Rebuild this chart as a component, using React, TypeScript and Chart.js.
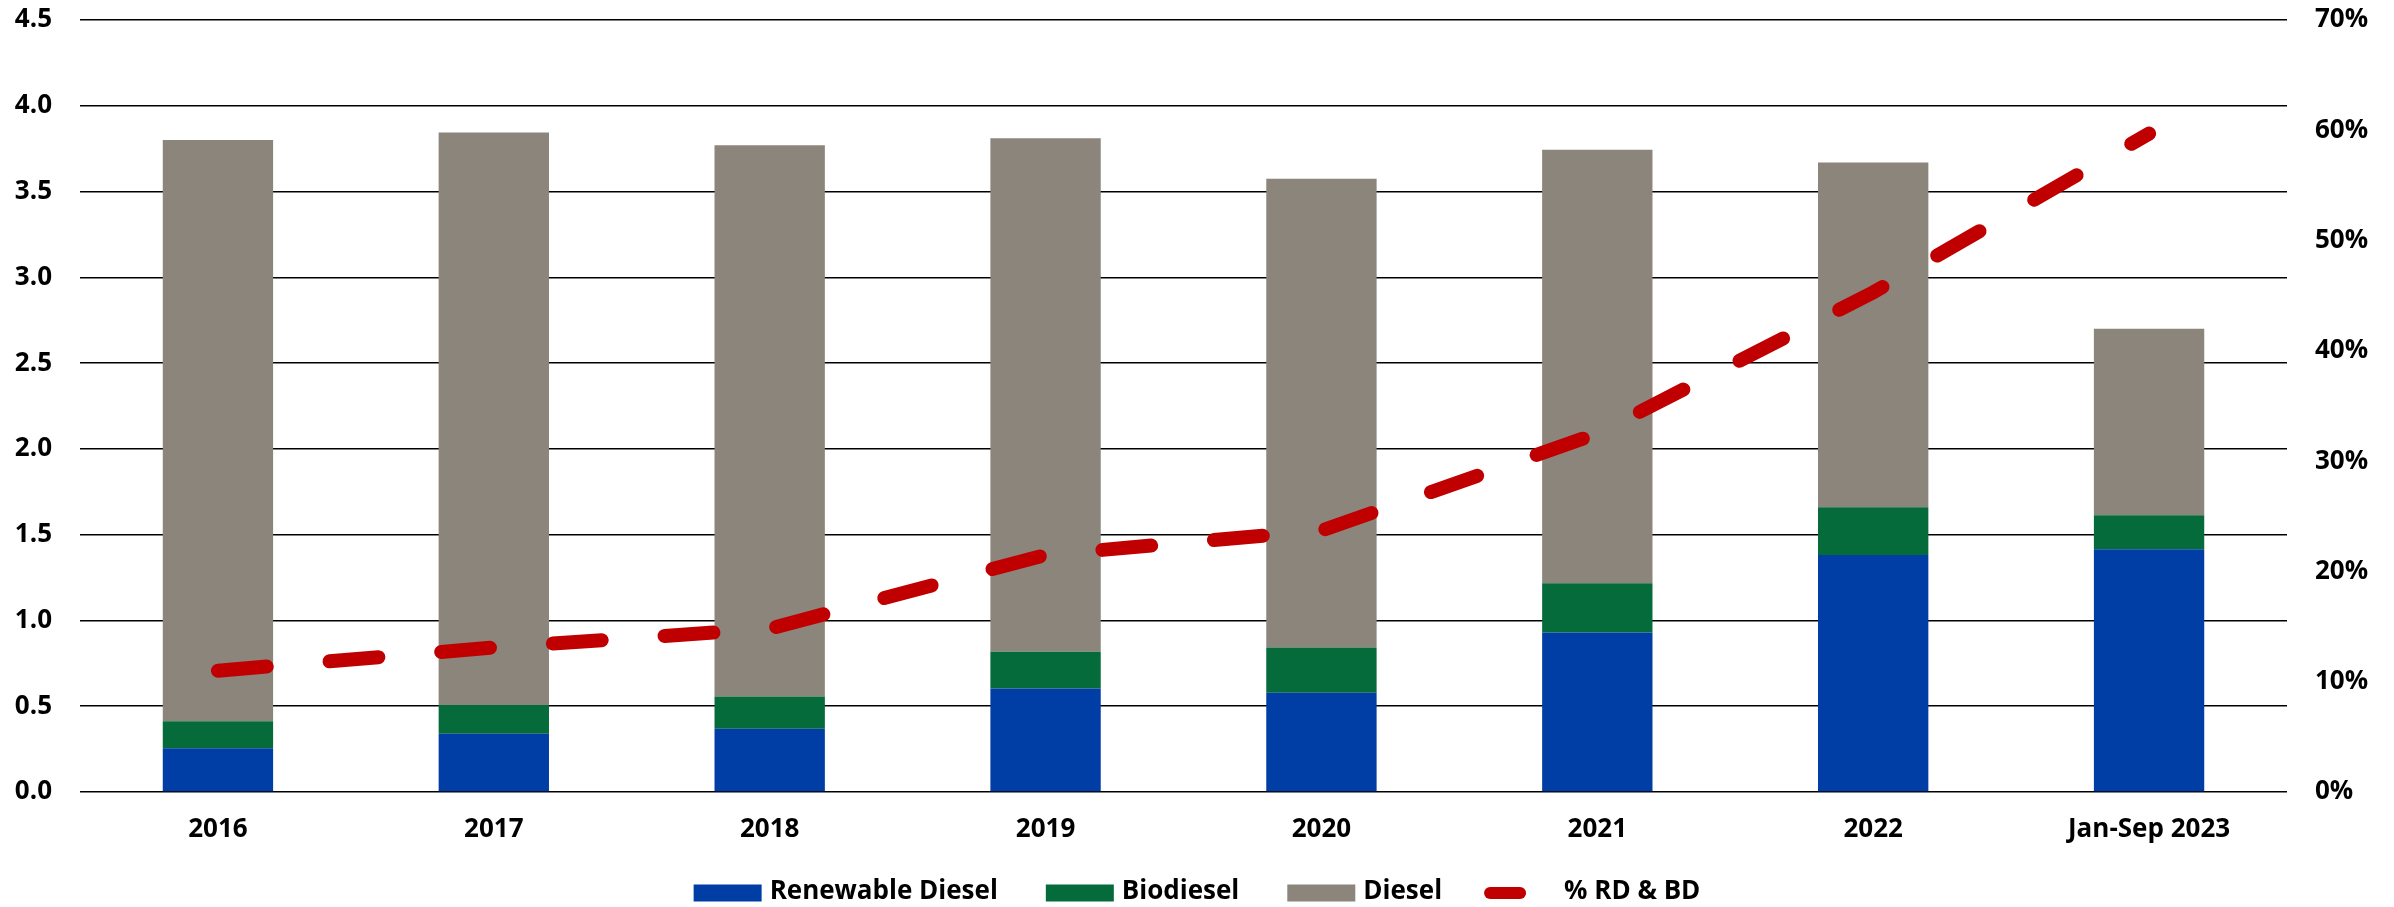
import React, { useEffect, useRef } from "react";
import { Chart, registerables } from "chart.js";

Chart.register(...registerables);

const categories = ["2016", "2017", "2018", "2019", "2020", "2021", "2022", "Jan-Sep 2023"];
const renewableDiesel = [0.255, 0.339, 0.369, 0.604, 0.578, 0.929, 1.381, 1.415];
const biodiesel = [0.158, 0.168, 0.188, 0.213, 0.265, 0.288, 0.279, 0.198];
const diesel = [3.387, 3.337, 3.213, 2.993, 2.731, 2.526, 2.01, 1.087];
const pctRdBd = [11.0, 13.1, 14.8, 21.5, 23.7, 32.5, 45.3, 59.7];
const seriesNames = ["Renewable Diesel", "Biodiesel", "Diesel", "% RD & BD"];

const COLORS = ["#003DA5", "#056B3A", "#8C857B", "#C00000"];
const FONT_FAMILY = "'Open Sans', 'Noto Sans', sans-serif";
const FONT_SIZE = 26;

const legendPlugin = {
  id: "customLegend",
  afterDraw(chart: any) {
    const ctx = chart.ctx as CanvasRenderingContext2D;
    ctx.save();
    ctx.font = `bold ${FONT_SIZE}px ${FONT_FAMILY}`;
    ctx.fillStyle = "#000";
    ctx.textBaseline = "middle";
    ctx.textAlign = "left";
    const boxW = 68, boxH = 17, boxGap = 8, itemGap = 48;
    const lineLen = 42, lineGapBefore = 42, lineGapAfter = 38;
    const items = chart.data.datasets.map((d: any) => ({
      label: d.label,
      color: d.type === "line" ? d.borderColor : d.backgroundColor,
      isLine: d.type === "line",
    }));
    let total = 0;
    items.forEach((it: any, i: number) => {
      const tw = ctx.measureText(it.label).width;
      if (it.isLine) {
        total += lineGapBefore + lineLen + lineGapAfter + tw;
      } else {
        total += (i > 0 ? itemGap : 0) + boxW + boxGap + tw;
      }
    });
    let x = chart.width / 2 - total / 2;
    const cy = 893;
    items.forEach((it: any, i: number) => {
      const tw = ctx.measureText(it.label).width;
      if (it.isLine) {
        x += lineGapBefore;
        ctx.beginPath();
        ctx.strokeStyle = it.color;
        ctx.lineWidth = 12;
        ctx.lineCap = "round";
        ctx.moveTo(x + 6, cy);
        ctx.lineTo(x + lineLen - 6, cy);
        ctx.stroke();
        x += lineLen + lineGapAfter;
        ctx.fillStyle = "#000";
        ctx.fillText(it.label, x, cy - 1);
        x += tw;
      } else {
        if (i > 0) x += itemGap;
        ctx.fillStyle = it.color;
        ctx.fillRect(x, cy - boxH / 2, boxW, boxH);
        x += boxW + boxGap;
        ctx.fillStyle = "#000";
        ctx.fillText(it.label, x, cy - 1);
        x += tw;
      }
    });
    ctx.restore();
  },
};

export default function App() {
  const canvasRef = useRef<HTMLCanvasElement | null>(null);

  useEffect(() => {
    document.body.style.margin = "0";
    const canvas = canvasRef.current;
    if (!canvas) return;
    const tickFont = { family: FONT_FAMILY, size: FONT_SIZE, weight: "bold" as const };
    const chart = new Chart(canvas, {
      type: "bar",
      data: {
        labels: categories,
        datasets: [
          {
            label: seriesNames[0],
            data: renewableDiesel,
            backgroundColor: COLORS[0],
            yAxisID: "y",
            order: 1,
            barPercentage: 0.4,
            categoryPercentage: 1,
          },
          {
            label: seriesNames[1],
            data: biodiesel,
            backgroundColor: COLORS[1],
            yAxisID: "y",
            order: 1,
            barPercentage: 0.4,
            categoryPercentage: 1,
          },
          {
            label: seriesNames[2],
            data: diesel,
            backgroundColor: COLORS[2],
            yAxisID: "y",
            order: 1,
            barPercentage: 0.4,
            categoryPercentage: 1,
          },
          {
            type: "line" as const,
            label: seriesNames[3],
            data: pctRdBd,
            yAxisID: "y1",
            borderColor: COLORS[3],
            backgroundColor: COLORS[3],
            borderWidth: 14,
            borderDash: [49, 63],
            borderCapStyle: "round",
            pointRadius: 0,
            tension: 0,
            order: 0,
          } as any,
        ],
      },
      options: {
        responsive: false,
        animation: false,
        layout: { padding: { top: 20, left: 0, right: 0, bottom: 0 } },
        plugins: {
          legend: { display: false },
          tooltip: { enabled: false },
        },
        scales: {
          x: {
            stacked: true,
            grid: { display: false, drawTicks: false },
            border: { display: false },
            ticks: { font: tickFont, color: "#000", padding: 22, maxRotation: 0, autoSkip: false },
            afterFit: (s: any) => {
              s.height = 115;
            },
          },
          y: {
            stacked: true,
            position: "left",
            min: 0,
            max: 4.5,
            ticks: {
              stepSize: 0.5,
              font: tickFont,
              color: "#000",
              padding: 0,
              callback: (v: any) => Number(v).toFixed(1),
            },
            grid: {
              color: "#000",
              lineWidth: 1.5,
              drawTicks: true,
              tickLength: 28,
              tickColor: "rgba(0,0,0,0)",
            },
            border: { display: false },
            afterFit: (s: any) => {
              s.width = 80;
            },
          },
          y1: {
            position: "right",
            min: 0,
            max: 70,
            ticks: {
              stepSize: 10,
              font: tickFont,
              color: "#000",
              padding: 0,
              callback: (v: any) => `${v}%`,
            },
            grid: { display: false, drawTicks: true, tickLength: 28 },
            border: { display: false },
            afterFit: (s: any) => {
              s.width = 107;
            },
          },
        },
      },
      plugins: [legendPlugin],
    });
    return () => chart.destroy();
  }, []);

  return (
    <div style={{ width: 2394, height: 907 }}>
      <canvas ref={canvasRef} width={2394} height={907} style={{ display: "block" }} />
    </div>
  );
}
